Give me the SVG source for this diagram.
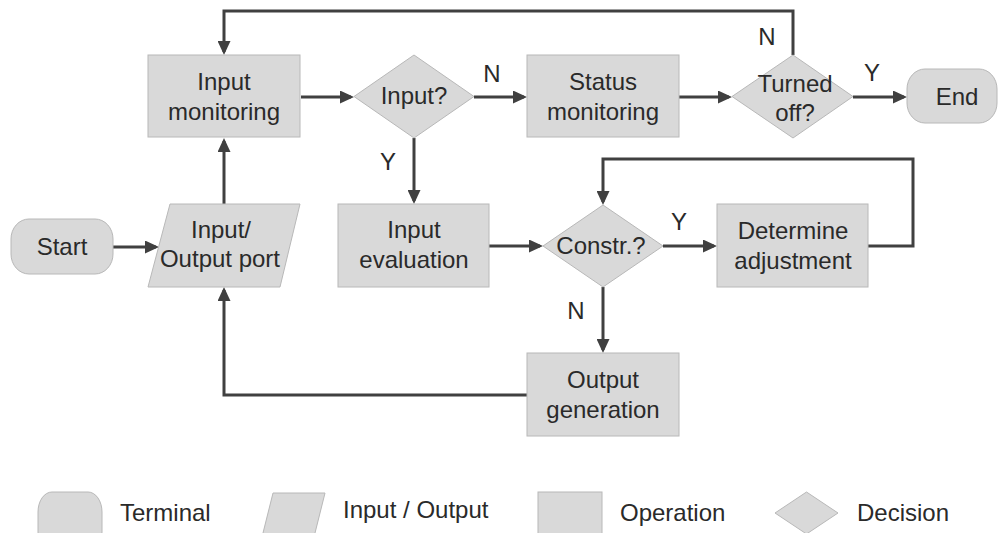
<svg xmlns="http://www.w3.org/2000/svg" width="998" height="533" viewBox="0 0 998 533">
  <defs>
    <marker id="arrow" viewBox="0 0 14 13" markerWidth="14" markerHeight="13" refX="11" refY="6.5" orient="auto" markerUnits="userSpaceOnUse">
      <path d="M0,0 L14,6.5 L0,13 Z" fill="#404040"/>
    </marker>
    <style>
      .shape { fill: #d9d9d9; stroke: #b8b8b8; stroke-width: 1; }
      .conn { fill: none; stroke: #404040; stroke-width: 3; }
      .arr { marker-end: url(#arrow); }
      text { font-family: "Liberation Sans", Arial, sans-serif; font-size: 24px; fill: #2a2a2a; }
      .c { text-anchor: middle; }
    </style>
  </defs>
  <rect width="998" height="533" fill="#ffffff"/>

  <!-- connectors -->
  <g id="connectors">
    <path class="conn arr" d="M112,247 H156"/>
    <path class="conn arr" d="M224,204 V141"/>
    <path class="conn arr" d="M301,97 H351"/>
    <path class="conn arr" d="M474,97 H524"/>
    <path class="conn arr" d="M679,97 H729"/>
    <path class="conn arr" d="M853,97 H904"/>
    <path class="conn arr" d="M793,55 V11 H224 V52"/>
    <path class="conn arr" d="M414,138 V201"/>
    <path class="conn arr" d="M489,246 H540"/>
    <path class="conn arr" d="M663,246 H714"/>
    <path class="conn arr" d="M868,246 H913 V159 H603 V202"/>
    <path class="conn arr" d="M603,287 V350"/>
    <path class="conn arr" d="M527,395 H224 V290"/>
    <text class="c" x="492" y="82">N</text>
    <text class="c" x="767" y="45">N</text>
    <text class="c" x="872" y="81">Y</text>
    <text class="c" x="388" y="170">Y</text>
    <text class="c" x="679" y="230">Y</text>
    <text class="c" x="576" y="319">N</text>
  </g>

  <!-- nodes -->
  <g id="start">
    <rect class="shape" x="11" y="219" width="102" height="55" rx="18" ry="20"/>
    <text class="c" x="62" y="255">Start</text>
  </g>
  <g id="io-port">
    <polygon class="shape" points="170,204 300,204 280,287 148,287"/>
    <text class="c" x="221" y="238">Input/</text>
    <text class="c" x="220" y="267">Output port</text>
  </g>
  <g id="input-monitoring">
    <rect class="shape" x="148" y="55" width="152" height="82"/>
    <text class="c" x="224" y="90">Input</text>
    <text class="c" x="224" y="120">monitoring</text>
  </g>
  <g id="input-decision">
    <polygon class="shape" points="414,55 474,96.5 414,138 354,96.5"/>
    <text class="c" x="414" y="104">Input?</text>
  </g>
  <g id="status-monitoring">
    <rect class="shape" x="527" y="55" width="152" height="82"/>
    <text class="c" x="603" y="90">Status</text>
    <text class="c" x="603" y="120">monitoring</text>
  </g>
  <g id="turned-off">
    <polygon class="shape" points="793,55 853,96.5 793,138 732,96.5"/>
    <text class="c" x="795" y="92">Turned</text>
    <text class="c" x="795" y="121">off?</text>
  </g>
  <g id="end">
    <rect class="shape" x="907" y="69" width="90" height="54" rx="18" ry="20"/>
    <text class="c" x="957" y="105">End</text>
  </g>
  <g id="input-evaluation">
    <rect class="shape" x="338" y="204" width="151" height="83"/>
    <text class="c" x="414" y="238">Input</text>
    <text class="c" x="414" y="268">evaluation</text>
  </g>
  <g id="constraint-decision">
    <polygon class="shape" points="603,205 663,246 603,287 543,246"/>
    <text class="c" x="601" y="254">Constr.?</text>
  </g>
  <g id="determine-adjustment">
    <rect class="shape" x="717" y="204" width="151" height="83"/>
    <text class="c" x="793" y="239">Determine</text>
    <text class="c" x="793" y="269">adjustment</text>
  </g>
  <g id="output-generation">
    <rect class="shape" x="527" y="353" width="152" height="83"/>
    <text class="c" x="603" y="388">Output</text>
    <text class="c" x="603" y="418">generation</text>
  </g>

  <!-- legend -->
  <g id="legend">
    <rect class="shape" x="38" y="492" width="64" height="60" rx="14" ry="20"/>
    <text x="120" y="521">Terminal</text>
    <polygon class="shape" points="273,493 325,493 312,545 260,545"/>
    <text x="343" y="518">Input / Output</text>
    <rect class="shape" x="538" y="492" width="64" height="60"/>
    <text x="620" y="521">Operation</text>
    <polygon class="shape" points="806.5,492 838,513 806.5,534 775,513"/>
    <text x="857" y="521">Decision</text>
  </g>
</svg>
